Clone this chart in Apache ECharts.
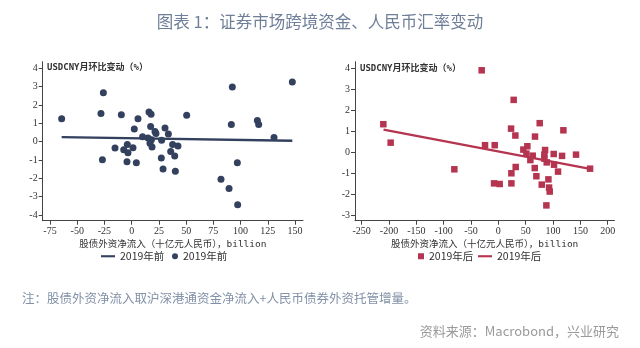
<!DOCTYPE html>
<html>
<head>
<meta charset="utf-8">
<script src="https://cdn.jsdelivr.net/npm/echarts@6/dist/echarts.min.js"></script>
<style>
html,body{margin:0;padding:0;background:#fff;}
#chart{width:640px;height:348px;}
</style>
</head>
<body>
<div id="chart"></div>
<script>
// ---- data: before 2019 (navy circles) ----
const beforeX = [-64.3,-26,-28.2,-26.9,-9.5,5.8,2.4,-15.3,-7.3,-4,-3.4,1.2,-4.3,4.3,10,15.9,17.8,17.4,15,16.8,18.7,18.1,21.4,22.3,27.5,30.6,33.7,27.2,28.8,37.6,35.8,39.5,42.5,40.1,50.5,92.4,91.5,97,82,89.4,97.3,115.4,116.6,130.7,147.5];
const beforeY = [1.25,2.67,1.53,-0.98,1.47,1.25,0.69,-0.35,-0.44,-0.16,-0.6,-0.33,-1.09,-1.15,0.27,1.62,1.5,0.82,0.2,-0.09,-0.29,0.11,0.56,0.44,0.07,0.75,0.42,-0.89,-1.49,-0.16,-0.53,-0.78,-0.24,-1.62,1.44,2.98,0.93,-1.15,-2.05,-2.56,-3.44,1.16,0.93,0.22,3.25];
const fitBeforeX = [-64.3, 147.5];
const fitBeforeY = [0.25, 0.05];

// ---- data: after 2019 (crimson squares) ----
const afterX = [-210.4,-197,-80.5,-30.5,-24.4,-6.7,-7.9,2.4,28,23.2,31.1,23.8,23.8,31.7,45.7,53,51.2,58.5,62.8,66.5,67,69.5,75.6,79.3,85.4,84.1,84.1,88.4,87.8,91.5,92.7,93.9,101.2,101.8,109.1,118.9,116.5,142,167.7];
const afterY = [1.33,0.45,-0.82,3.9,0.33,0.33,-1.49,-1.52,2.49,1.12,0.79,-1.01,-1.49,-0.71,0.12,0.28,-0.07,-0.38,-0.17,-0.76,0.74,-1.15,1.38,-1.55,0.1,-0.12,-0.31,-0.49,-2.54,-1.3,-1.69,-1.88,-0.09,-0.6,-0.93,1.04,-0.18,-0.12,-0.79];
const fitAfterX = [-210, 167.7];
const fitAfterY = [1.07, -0.8];

// ---- tick labels ----
const xTicksBefore = [-75,-50,-25,0,25,50,75,100,125,150];
const yTicksBefore = [-4,-3,-2,-1,0,1,2,3,4];
const xTicksAfter = [-250,-200,-150,-100,-50,0,50,100,150,200];
const yTicksAfter = [-3,-2,-1,0,1,2,3,4];

// ---- texts ----
const titleText = '图表 1：证券市场跨境资金、人民币汇率变动';
const noteText = '注：股债外资净流入取沪深港通资金净流入+人民币债券外资托管增量。';
const sourceText = '资料来源：Macrobond，兴业研究';
const yName = 'USDCNY月环比变动（%）';
const xName = '股债外资净流入（十亿元人民币），billion';
const nameBefore = '2019年前';
const nameAfter = '2019年后';

const zip = (a, b) => a.map((v, i) => [v, b[i]]);

const navy = '#33415f';
const crimson = '#b5344f';
const axisColor = '#444';
const monoCJK = "'DejaVu Sans Mono','Noto Sans CJK SC',monospace";
const lineIcon = 'path://M0,0H20V3H0Z';

function xAxisCfg(ticks, min, max, gridIndex) {
  return {
    type: 'value', gridIndex, min, max,
    splitLine: {show: false},
    axisLine: {onZero: false, lineStyle: {color: axisColor, width: 1}},
    axisTick: {length: 4, customValues: ticks, lineStyle: {color: axisColor}},
    axisLabel: {customValues: ticks, fontFamily: 'Liberation Serif', fontSize: 10, color: '#333', margin: 6},
    name: xName, nameLocation: 'middle', nameGap: 19,
    nameTextStyle: {fontFamily: monoCJK, fontSize: 9.5, color: '#333'}
  };
}
function yAxisCfg(ticks, min, max, gridIndex) {
  return {
    type: 'value', gridIndex, min, max,
    splitLine: {show: false},
    axisLine: {show: true, onZero: false, lineStyle: {color: axisColor, width: 1}},
    axisTick: {show: true, length: 4, customValues: ticks, lineStyle: {color: axisColor}},
    axisLabel: {customValues: ticks, fontFamily: 'Liberation Serif', fontSize: 10, color: '#333', margin: 5}
  };
}
const legendText = {fontFamily: "'Noto Sans CJK SC'", fontSize: 10.5, color: '#333'};

const chart = echarts.init(document.getElementById('chart'), null, {renderer: 'canvas'});
chart.setOption({
  backgroundColor: '#fff',
  animation: false,
  title: [
    {text: titleText, left: 'center', top: 12, padding: 0,
     textStyle: {fontFamily: "'Noto Sans CJK SC'", fontSize: 16.5, fontWeight: 'normal', color: '#6f7f98', lineHeight: 20}},
    {text: yName, left: 47, top: 62, padding: 0,
     textStyle: {fontFamily: monoCJK, fontSize: 9, fontWeight: 'bold', color: '#333', lineHeight: 11}},
    {text: yName, left: 360, top: 63, padding: 0,
     textStyle: {fontFamily: monoCJK, fontSize: 9, fontWeight: 'bold', color: '#333', lineHeight: 11}},
    {text: noteText, left: 22, top: 290, padding: 0,
     textStyle: {fontFamily: "'Noto Sans CJK SC'", fontSize: 12.5, fontWeight: 'normal', color: '#8291a8', lineHeight: 16}},
    {text: sourceText, right: 21, top: 323, padding: 0,
     textStyle: {fontFamily: "'Noto Sans CJK SC'", fontSize: 13, fontWeight: 'normal', color: '#9a9a9a', lineHeight: 16}}
  ],
  legend: [
    {data: [{name: nameBefore, icon: lineIcon}], left: 101, top: 251, padding: 0, itemWidth: 14, itemHeight: 8,
     selectedMode: false, textStyle: legendText},
    {data: [{name: nameBefore + ' ', icon: 'circle'}], left: 172, top: 251, padding: 0, itemWidth: 6, itemHeight: 6,
     selectedMode: false, textStyle: legendText},
    {data: [{name: nameAfter + ' ', icon: 'rect'}], left: 418, top: 251, padding: 0, itemWidth: 6, itemHeight: 6,
     selectedMode: false, textStyle: legendText},
    {data: [{name: nameAfter, icon: lineIcon}], left: 478, top: 251, padding: 0, itemWidth: 14, itemHeight: 8,
     selectedMode: false, textStyle: legendText}
  ],
  grid: [
    {left: 42.7, width: 260.3, top: 61.7, height: 159, containLabel: false},
    {left: 355, width: 259.4, top: 61.7, height: 159, containLabel: false}
  ],
  xAxis: [
    xAxisCfg(xTicksBefore, -81.7, 157.3, 0),
    xAxisCfg(xTicksAfter, -262.2, 212.2, 1)
  ],
  yAxis: [
    yAxisCfg(yTicksBefore, -4.31, 4.36, 0),
    yAxisCfg(yTicksAfter, -3.27, 4.31, 1)
  ],
  series: [
    {name: nameBefore, type: 'line', xAxisIndex: 0, yAxisIndex: 0,
     data: zip(fitBeforeX, fitBeforeY), symbol: 'none', showSymbol: false, z: 3,
     itemStyle: {color: navy}, lineStyle: {color: navy, width: 2.3}},
    {name: nameBefore + ' ', type: 'scatter', xAxisIndex: 0, yAxisIndex: 0,
     data: zip(beforeX, beforeY), symbol: 'circle', symbolSize: 7, z: 2,
     itemStyle: {color: navy, opacity: 1}},
    {name: nameAfter + ' ', type: 'scatter', xAxisIndex: 1, yAxisIndex: 1,
     data: zip(afterX, afterY), symbol: 'rect', symbolSize: 6.5, z: 2,
     itemStyle: {color: crimson, opacity: 1}},
    {name: nameAfter, type: 'line', xAxisIndex: 1, yAxisIndex: 1,
     data: zip(fitAfterX, fitAfterY), symbol: 'none', showSymbol: false, z: 3,
     itemStyle: {color: crimson}, lineStyle: {color: crimson, width: 2.3}}
  ]
});
</script>
</body>
</html>
